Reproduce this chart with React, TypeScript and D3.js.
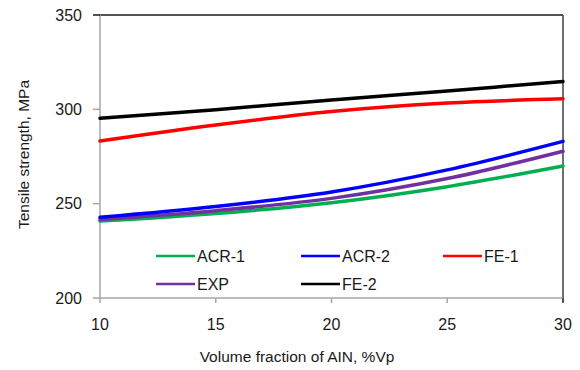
import React from "react";
import * as d3 from "d3";

const xValues = [10, 15, 20, 25, 30];
const acr1 = [240.8, 244.8, 250.5, 259, 270];
const acr2 = [242.8, 248.5, 256.2, 267.9, 283];
const fe1 = [283.2, 291.7, 298.8, 303.3, 305.6];
const exp = [241.6, 246.3, 252.8, 263.3, 277.8];
const fe2 = [295.3, 299.8, 305, 309.7, 314.8];
const xTicks = [10, 15, 20, 25, 30];
const yTicks = [200, 250, 300, 350];

const seriesNames = ["ACR-1", "ACR-2", "FE-1", "EXP", "FE-2"];
const seriesData = [acr1, acr2, fe1, exp, fe2];
const seriesColors = ["#00b050", "#0000ff", "#ff0000", "#7030a0", "#000000"];
const drawOrder = [0, 3, 1, 2, 4];

export default function App() {
  const W = 580, H = 370;
  const left = 100, right = 563, top = 15, bottom = 298;
  const x = d3.scaleLinear().domain([10, 30]).range([left, right]);
  const y = d3.scaleLinear().domain([200, 350]).range([bottom, top]);
  const line = d3
    .line<number>()
    .x((_, i) => x(xValues[i]))
    .y((d) => y(d))
    .curve(d3.curveCatmullRom.alpha(0.5));

  const legendPos = [
    { lx: 156, ly: 256 },
    { lx: 301, ly: 256 },
    { lx: 443, ly: 256 },
    { lx: 156, ly: 284 },
    { lx: 301, ly: 284 },
  ];

  const font = "'Liberation Sans', Arial, sans-serif";

  return (
    <svg
      width={W}
      height={H}
      style={{ position: "absolute", left: 0, top: 0, background: "#fff" }}
      fontFamily={font}
    >
      <rect x={0} y={0} width={W} height={H} fill="#fff" />
      <line x1={left} x2={right} y1={top} y2={top} stroke="#1a1a1a" strokeWidth={1.5} />
      <line x1={right} x2={right} y1={top} y2={bottom + 4} stroke="#404040" strokeWidth={1.5} />
      <line x1={left} x2={left} y1={top} y2={bottom} stroke="#a6a6a6" strokeWidth={1.5} />
      <line x1={left} x2={right} y1={bottom} y2={bottom} stroke="#a6a6a6" strokeWidth={1.5} />
      {yTicks.map((t) => (
        <g key={"y" + t}>
          <line x1={left - 7} x2={left} y1={y(t)} y2={y(t)} stroke={t === 350 ? "#1a1a1a" : "#a6a6a6"} strokeWidth={1.5} />
          <text x={82} y={y(t) + 5.8} textAnchor="end" fontSize={16} fill="#1a1a1a">
            {t}
          </text>
        </g>
      ))}
      {xTicks.map((t) => (
        <g key={"x" + t}>
          <line x1={x(t)} x2={x(t)} y1={bottom} y2={bottom + 5} stroke={t === 30 ? "#404040" : "#a6a6a6"} strokeWidth={1.5} />
          <text x={x(t)} y={330} textAnchor="middle" fontSize={16} fill="#1a1a1a">
            {t}
          </text>
        </g>
      ))}
      <text
        transform={`translate(29,154.5) rotate(-90)`}
        textAnchor="middle"
        fontSize={15.5}
        fill="#1a1a1a"
      >
        Tensile strength, MPa
      </text>
      <text x={297} y={362} textAnchor="middle" fontSize={15.5} fill="#1a1a1a">
        Volume fraction of AIN, %Vp
      </text>
      {drawOrder.map((i) => (
        <path
          key={"s" + i}
          d={line(seriesData[i]) || ""}
          fill="none"
          stroke={seriesColors[i]}
          strokeWidth={3.5}
          strokeLinecap="round"
        />
      ))}
      {seriesNames.map((n, i) => (
        <g key={"l" + n}>
          <line
            x1={legendPos[i].lx}
            x2={legendPos[i].lx + 39}
            y1={legendPos[i].ly}
            y2={legendPos[i].ly}
            stroke={seriesColors[i]}
            strokeWidth={2.5}
          />
          <text x={legendPos[i].lx + 41} y={legendPos[i].ly + 5.8} fontSize={16} fill="#1a1a1a">
            {n}
          </text>
        </g>
      ))}
    </svg>
  );
}
